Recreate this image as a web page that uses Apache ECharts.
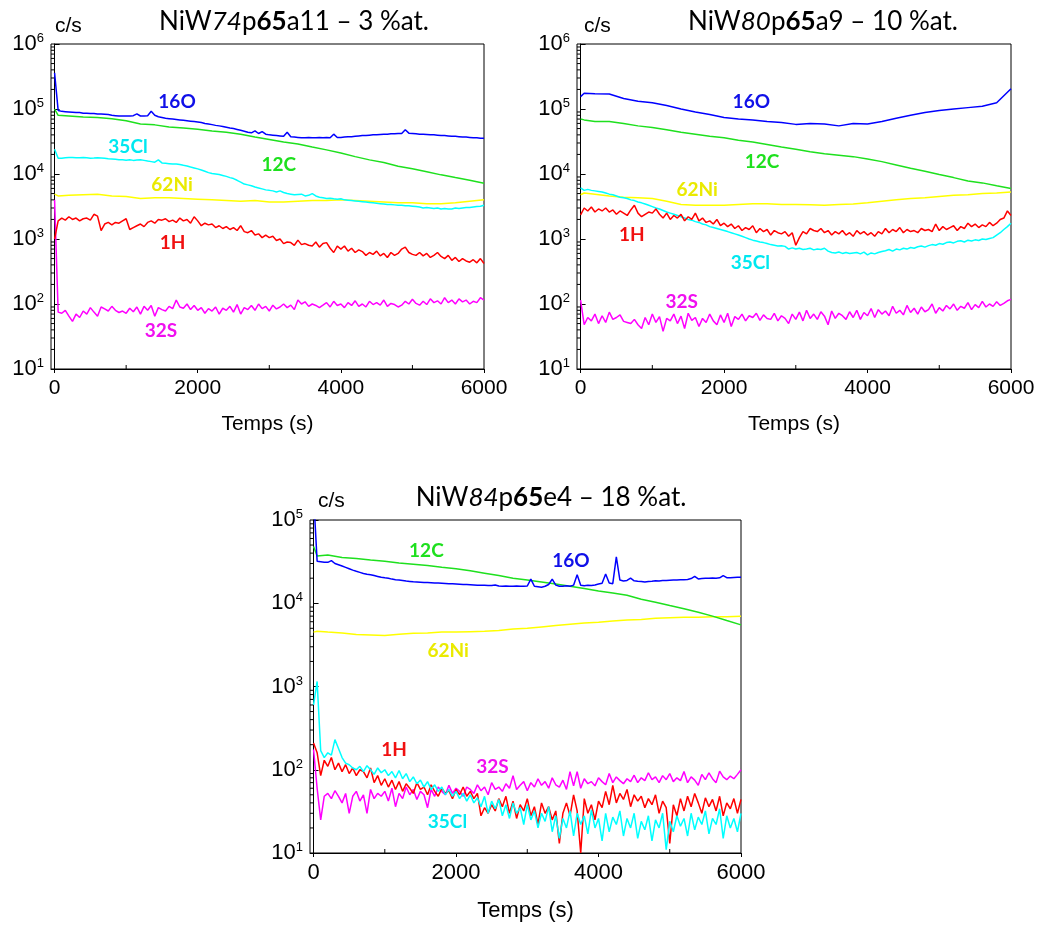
<!DOCTYPE html>
<html>
<head>
<meta charset="utf-8">
<script src="https://cdn.jsdelivr.net/npm/echarts@6/dist/echarts.min.js"></script>
<style>
html,body{margin:0;padding:0;background:#fff;}
#chart{width:1038px;height:926px;}
</style>
</head>
<body>
<div id="chart"></div>
<script>
// ---------- time grids (s) ----------
const tFine = [
0,50,100,150,200,250,300,350,400,450,
500,550,600,650,700,750,800,850,900,950,
1000,1050,1100,1150,1200,1250,1300,1350,1400,1450,
1500,1550,1600,1650,1700,1750,1800,1850,1900,1950,
2000,2050,2100,2150,2200,2250,2300,2350,2400,2450,
2500,2550,2600,2650,2700,2750,2800,2850,2900,2950,
3000,3050,3100,3150,3200,3250,3300,3350,3400,3450,
3500,3550,3600,3650,3700,3750,3800,3850,3900,3950,
4000,4050,4100,4150,4200,4250,4300,4350,4400,4450,
4500,4550,4600,4650,4700,4750,4800,4850,4900,4950,
5000,5050,5100,5150,5200,5250,5300,5350,5400,5450,
5500,5550,5600,5650,5700,5750,5800,5850,5900,5950,
6000];
const tCoarse = [0,50,200,400,600,800,1000,1200,1400,1600,1800,2000,2200,2400,2600,2800,3000,3200,3400,3600,3800,4000,4200,4400,4600,4800,5000,5200,5400,5600,5800,6000];

// ---------- tick labels ----------
const xTickValues = [0,2000,4000,6000];
const xMinorValues = [1000,3000,5000];
const xAxisName = 'Temps (s)';
const yUnit = 'c/s';

// ---------- Panel 1 : NiW74p65a11 – 3 %at. ----------
const p1_16O = [
360000,95000,92000,91000,90000,89000,88000,88000,86000,86000,
85000,85000,84000,84000,83000,82000,80000,79000,78000,78000,
78000,78000,79000,84000,78000,78000,79000,92000,80000,76000,
74000,72000,71000,70000,69000,68000,67000,66000,65000,64000,
63000,62000,60000,59000,57500,56000,55000,54000,52500,51000,
50000,48500,47000,45500,44000,43000,46000,42000,45000,41000,
40000,39500,39000,38500,38000,44000,37500,37000,36500,36000,
36000,36500,36000,36000,36500,36000,36500,36000,41000,36500,
36500,37000,37500,37500,38000,38500,39000,39000,39500,40000,
40000,40500,41000,41000,41500,41500,42000,42000,48000,42500,
42000,41500,41000,41000,40500,40000,40000,39500,39000,39000,
38500,38000,38000,37500,37000,37000,36500,36000,36000,35500,
35500];
const p1_1H = [
1000,1900,2100,1950,2200,2000,2100,1900,2050,2100,
1950,2400,2250,1350,1700,1800,1650,1800,1750,1900,
2050,1400,1500,1600,1700,1550,1800,1900,1750,2000,
1950,2050,1850,1950,1800,2100,1900,2000,1750,2200,
1900,1600,1750,1650,1700,1500,1600,1450,1550,1400,
1500,1350,1600,1300,1250,1350,1150,1200,1050,1150,
1050,1100,950,1000,850,900,880,800,960,820,
850,800,780,900,750,850,880,720,620,780,
700,780,650,720,620,680,640,560,620,580,
650,550,600,520,620,560,600,700,750,620,
580,560,620,550,600,520,560,620,540,500,
560,470,520,450,500,460,440,480,430,500,
420];
const p1_32S = [
4000,75,72,80,65,54,70,62,78,70,
88,75,65,90,84,78,92,80,74,78,
72,86,76,90,70,92,80,95,65,88,
82,78,92,85,115,90,86,100,82,95,
80,88,72,85,78,90,70,86,80,92,
75,98,70,88,82,95,80,100,85,92,
78,96,84,90,100,88,96,82,115,100,
108,92,100,95,88,96,105,90,110,95,
100,88,105,95,112,92,100,90,110,98,
105,96,115,92,102,98,90,96,110,100,
118,102,96,110,98,120,105,112,100,125,
105,115,100,120,108,115,100,110,105,125,
115];
const p1_35Cl = [
24000,17500,17500,17800,18000,18000,17800,17800,18000,17800,
17500,17600,17800,17700,17500,17200,17000,16800,16500,16500,
16300,16500,16200,16400,16500,16200,15800,15500,15200,16500,
14800,14600,14400,14200,14300,14000,13600,13300,12800,12400,
12000,11500,11000,10500,10200,10000,9800,9500,9200,8800,
8500,8000,7500,7000,6800,6600,6300,6100,5900,5700,
5600,5500,5300,5500,5200,5000,4900,4800,4850,4900,
4600,4700,5000,4600,4400,4300,4200,4250,4150,4100,
4150,4000,3950,3900,3850,3800,3750,3700,3650,3600,
3550,3500,3450,3400,3400,3350,3300,3300,3250,3250,
3200,3150,3100,3000,3050,3000,2950,3000,2900,2950,
2900,2900,3000,2950,3000,3050,3050,3100,3150,3200,
3300];
const p1_12C = [100000,80000,78000,75000,74000,71000,66000,59000,57000,53000,51000,49000,46000,44000,41000,37000,34000,31000,29000,26000,23500,21000,18500,16500,15000,13200,12000,10800,9700,8800,8000,7200];
const p1_62Ni = [4900,4600,4700,4800,4900,4600,4500,4200,4300,4300,4200,4100,4000,3900,3800,3900,3700,3700,3800,3900,3900,4000,3900,3800,3700,3600,3600,3500,3500,3600,3800,4000];

// ---------- Panel 2 : NiW80p65a9 – 10 %at. ----------
const p2_16O = [155000,175000,172000,170000,145000,132000,125000,113000,100000,90000,82000,74000,70000,68000,64000,62000,58000,60000,59000,55000,60000,59000,64000,72000,80000,88000,95000,100000,105000,110000,125000,205000];
const p2_12C = [70000,68000,64000,64000,60000,55000,52000,48000,44000,41000,38000,36000,33000,31000,28500,26000,24000,22000,20500,19500,18500,17000,15500,13800,12300,11000,9800,8800,7800,7300,6600,6000];
const p2_62Ni = [4800,5100,4900,4600,4400,4300,4200,3800,3400,3300,3300,3300,3400,3500,3500,3400,3400,3350,3300,3400,3450,3600,3800,4000,4200,4300,4500,4700,4800,5000,5100,5300];
const p2_35Cl = [
6100,5600,5800,5600,5500,5400,5300,5100,4900,4800,
4600,4400,4300,4200,4000,3900,3700,3600,3450,3300,
3150,3000,2900,2750,2600,2500,2400,2300,2200,2100,
2000,1950,1850,1800,1700,1650,1550,1500,1450,1400,
1350,1300,1250,1200,1150,1100,1050,1000,960,930,
900,880,850,820,800,780,790,770,700,730,
700,720,690,700,720,680,700,690,720,650,
620,610,630,600,620,600,610,620,590,630,
570,610,590,620,640,660,690,650,700,680,
720,700,740,720,760,780,750,790,820,800,
850,830,880,900,870,920,940,900,960,930,
970,950,1000,980,1020,1050,1150,1250,1400,1550,
1750];
const p2_1H = [
2350,3000,2700,3100,2600,2900,2700,3000,2600,2800,
2400,2700,2500,2300,2800,3300,2500,2200,2400,2600,
2500,2900,2400,2100,2500,2000,2300,2100,2400,1900,
2200,2000,2500,1900,2100,1800,1900,1700,2000,1600,
1750,1550,1700,1450,1600,1350,1500,1400,1600,1250,
1450,1300,1400,1150,1350,1250,1200,1300,1100,1250,
800,1050,1300,1200,1450,1350,1300,1450,1250,1350,
1150,1300,1200,1350,1150,1250,1100,1350,1200,1300,
1150,1250,1100,1300,1200,1450,1250,1400,1300,1500,
1250,1400,1300,1350,1250,1450,1350,1400,1300,1700,
1350,1550,1400,1500,1600,1350,1550,1450,1750,1550,
1700,1500,1650,1550,1800,1600,1750,2000,2100,2700,
2300];
const p2_32S = [
115,48,62,55,70,50,66,52,75,58,
62,68,54,52,50,58,48,42,62,48,
70,52,64,38,60,55,70,50,65,42,
72,56,62,45,60,52,70,55,48,68,
52,72,45,64,58,70,55,66,62,72,
56,68,60,58,72,55,66,60,50,70,
58,75,55,80,60,70,58,76,65,48,
78,60,72,66,58,76,62,80,58,74,
66,85,62,82,70,78,66,92,72,80,
68,95,74,86,70,90,76,82,100,72,
88,78,95,84,100,80,92,86,105,82,
98,88,110,90,100,92,108,95,102,112,
118];

// ---------- Panel 3 : NiW84p65e4 – 18 %at. ----------
const p3_16O = [
200000,32000,31500,31000,31000,32500,30000,29000,28000,27000,
26000,25000,24200,23500,22800,22300,22000,21500,21000,20500,
20200,20000,19500,19200,19000,18800,18500,18300,18100,18000,
17900,17800,17700,17600,17500,17500,17400,17300,17200,17100,
17000,16900,16800,16800,16700,16600,16500,16500,16400,16300,
16300,16600,16100,16000,16100,16000,16000,16100,16000,16000,
16100,19500,16000,15800,15600,16000,16800,19500,16500,16000,
16000,16200,16000,16500,22000,16500,16200,16400,16300,16600,
17000,17400,22500,17500,17200,36000,19000,18500,18800,20000,
18600,18400,18300,18000,18300,18400,18600,18500,18700,18800,
18900,19000,19000,19100,19200,19300,19800,21000,19600,19800,
19900,20000,20100,20000,20200,21500,20300,20200,20400,20500,
20500];
const p3_12C = [48000,37000,38000,35500,34500,33000,32000,30500,29500,28500,27000,26000,24500,23000,21500,20000,19000,18000,17000,16000,15000,14000,13300,12500,11200,10300,9400,8600,7800,7000,6200,5500];
const p3_62Ni = [4500,4600,4500,4400,4200,4150,4100,4250,4350,4400,4500,4500,4550,4600,4700,4900,5000,5200,5400,5600,5800,5900,6100,6300,6400,6600,6700,6800,6800,6900,6900,7000];
const p3_35Cl = [
600,1150,170,140,160,150,230,180,140,120,
115,105,100,110,95,112,100,88,105,92,
100,85,95,80,98,78,90,72,82,68,
75,62,72,58,66,55,62,50,58,48,
55,45,52,42,50,40,46,36,48,30,
42,34,44,28,38,26,40,30,35,22,
38,25,32,20,30,24,36,18,28,15,
26,20,32,16,30,22,28,17,33,20,
26,14,30,18,27,22,32,16,26,20,
30,15,24,19,28,14,25,20,30,11,
24,18,28,21,26,16,30,19,27,22,
32,17,26,22,34,15,28,20,26,18,
30];
const p3_1H = [
210,160,85,130,110,140,100,120,95,115,
90,105,85,100,95,80,105,70,85,65,
78,62,75,58,72,55,68,60,52,70,
58,62,50,66,55,48,60,52,56,45,
58,50,62,48,55,45,52,28,35,30,
38,32,45,36,48,30,42,26,38,32,
45,28,36,22,40,30,36,25,32,13,
30,40,28,50,32,10,45,30,38,25,
42,35,55,38,65,40,52,44,58,36,
50,42,48,35,45,38,50,30,42,35,
13,38,28,45,32,48,36,52,40,30,
46,36,44,32,48,28,40,34,45,30,
44];
const p3_32S = [
175,60,25,48,52,45,56,48,40,52,
30,48,55,42,50,30,58,45,52,48,
55,42,60,36,52,45,62,50,58,44,
55,50,35,58,48,62,55,50,65,52,
60,55,48,62,58,52,66,56,62,50,
70,58,62,55,68,60,85,58,65,72,
56,70,62,78,65,72,60,80,66,62,
75,58,95,64,95,60,78,68,72,64,
80,72,66,90,70,82,74,68,78,72,
86,70,80,74,92,76,82,70,85,76,
90,72,80,74,95,70,82,75,65,88,
76,92,78,70,96,82,76,84,78,88,
100];

// ---------- series labels: [time, counts] where the name sits ----------
const p1LabelAt = {'16O':[1711,128800],'35Cl':[1026,26300],'12C':[3133,13800],'62Ni':[1641,6760],'1H':[1650,871],'32S':[1487,38.9]};
const p2LabelAt = {'16O':[2380,128800],'12C':[2529,15100],'62Ni':[1626,5620],'1H':[713,1150],'35Cl':[2366,427],'32S':[1411,107]};
const p3LabelAt = {'12C':[1584,42700],'16O':[3614,32400],'62Ni':[1889,2690],'1H':[1130,174],'32S':[2512,107],'35Cl':[1880,23.4]};

// ---------- styling ----------
const COLORS = {'16O':'#0000ff','12C':'#1ee01e','35Cl':'#00ffff','62Ni':'#ffff00','1H':'#ff0000','32S':'#ff00ff'};
const LABEL_COLORS = {'16O':'#1010e8','12C':'#1ee01e','35Cl':'#00e8f0','62Ni':'#eaea00','1H':'#f01010','32S':'#f010f0'};
const X_MIN = -50, X_MAX = 6000;
const TICK_FONT = 'Liberation Sans';
const TITLE_FONT = 'Lato';

const panels = [
  {grid:{left:51,top:44,width:433,height:325}, yMax:1e6, nameGap:45, fs:21,
   title:['NiW','74','p','65','a11 – 3 %at.'], titleX:289, titleY:4, unitX:50, unitY:11,
   labels:p1LabelAt,
   series:[['62Ni',tCoarse,p1_62Ni],['12C',tCoarse,p1_12C],['16O',tFine,p1_16O],['35Cl',tFine,p1_35Cl],['32S',tFine,p1_32S],['1H',tFine,p1_1H]]},
  {grid:{left:577,top:44,width:434,height:325}, yMax:1e6, nameGap:45, fs:21,
   title:['NiW','80','p','65','a9 – 10 %at.'], titleX:818, titleY:4, unitX:579, unitY:11,
   labels:p2LabelAt,
   series:[['62Ni',tCoarse,p2_62Ni],['12C',tCoarse,p2_12C],['16O',tCoarse,p2_16O],['32S',tFine,p2_32S],['35Cl',tFine,p2_35Cl],['1H',tFine,p2_1H]]},
  {grid:{left:310,top:520,width:431,height:333}, yMax:1e5, nameGap:47, fs:22,
   title:['NiW','84','p','65','e4 – 18 %at.'], titleX:546, titleY:480, unitX:313, unitY:486,
   labels:p3LabelAt,
   series:[['62Ni',tCoarse,p3_62Ni],['12C',tCoarse,p3_12C],['16O',tFine,p3_16O],['32S',tFine,p3_32S],['1H',tFine,p3_1H],['35Cl',tFine,p3_35Cl]]}
];

function zip(t, v){ return t.map((x,i)=>[x, v[i]]); }

// minor log ticks (2..9 per decade) and minor x ticks, drawn through the axes
function tickData(yMax){
  const out = [];
  for (let d = 10; d < yMax; d *= 10){
    for (let k = 2; k <= 9; k++) out.push([X_MIN, k*d, 0]);
  }
  xMinorValues.forEach(v => out.push([v, 10, 1]));
  return out;
}

const grid = [], xAxis = [], yAxis = [], series = [], title = [];
panels.forEach((p, i) => {
  grid.push(Object.assign({show:true, borderColor:'#000', borderWidth:1, backgroundColor:'transparent'}, p.grid));
  xAxis.push({
    gridIndex:i, type:'value', min:X_MIN, max:X_MAX,
    name:xAxisName, nameLocation:'middle', nameGap:p.nameGap,
    nameTextStyle:{fontFamily:TICK_FONT, fontSize:p.fs, color:'#000'},
    axisLine:{show:true, onZero:false, lineStyle:{color:'#000', width:1}},
    axisTick:{show:true, inside:false, length:4, customValues:xTickValues, lineStyle:{color:'#000'}},
    axisLabel:{show:true, margin:9, customValues:xTickValues, formatter:v => String(v),
               fontFamily:TICK_FONT, fontSize:p.fs, color:'#000'},
    splitLine:{show:false}
  });
  yAxis.push({
    gridIndex:i, type:'log', logBase:10, min:10, max:p.yMax,
    axisLine:{show:true, lineStyle:{color:'#000', width:1}},
    axisTick:{show:true, inside:true, length:5, lineStyle:{color:'#000'}},
    axisLabel:{show:true, margin:7,
      formatter: v => '{b|10}{s|' + Math.round(Math.log10(v)) + '}',
      rich:{
        b:{fontFamily:TICK_FONT, fontSize:22, color:'#000', lineHeight:24},
        s:{fontFamily:TICK_FONT, fontSize:13, color:'#000', verticalAlign:'top', lineHeight:18}
      }},
    splitLine:{show:false}
  });
  title.push({
    text:'{n|' + p.title[0] + '}{i|' + p.title[1] + '}{n|' + p.title[2] + '}{b|' + p.title[3] + '}{n|' + p.title[4] + '}',
    left:p.titleX, top:p.titleY, textAlign:'center',
    textStyle:{fontWeight:'normal', rich:{
      n:{fontFamily:TITLE_FONT, fontSize:26, fontWeight:'normal', color:'#000'},
      i:{fontFamily:TITLE_FONT, fontSize:26, fontWeight:'normal', fontStyle:'italic', color:'#000'},
      b:{fontFamily:TITLE_FONT, fontSize:26, fontWeight:'bold', color:'#000'}
    }}
  });
  title.push({text:yUnit, left:p.unitX, top:p.unitY, textStyle:{fontFamily:TICK_FONT, fontSize:21, fontWeight:'normal', color:'#000'}});

  p.series.forEach(([name, t, v]) => {
    const at = p.labels[name];
    series.push({
      type:'line', name:name, xAxisIndex:i, yAxisIndex:i,
      data:zip(t, v), showSymbol:false, symbol:'none', clip:true,
      lineStyle:{color:COLORS[name], width:1.5}, itemStyle:{color:COLORS[name]},
      animation:false, silent:true,
      markPoint:{
        symbol:'circle', symbolSize:0, silent:true, animation:false,
        label:{show:true, position:'inside', formatter:name, color:LABEL_COLORS[name],
               fontFamily:TITLE_FONT, fontWeight:'bold', fontSize:19},
        data:[{coord:at}]
      }
    });
  });

  series.push({
    type:'custom', xAxisIndex:i, yAxisIndex:i, silent:true, animation:false, clip:false, z:10,
    data:tickData(p.yMax),
    renderItem:(params, api) => {
      const pt = api.coord([api.value(0), api.value(1)]);
      const kind = api.value(2);
      if (kind === 0) {
        return {type:'line', shape:{x1:pt[0], y1:pt[1], x2:pt[0]+3, y2:pt[1]}, style:{stroke:'#000', lineWidth:1}};
      }
      return {type:'line', shape:{x1:pt[0], y1:pt[1], x2:pt[0], y2:pt[1]-4}, style:{stroke:'#000', lineWidth:1}};
    }
  });
});

const chart = echarts.init(document.getElementById('chart'), null, {renderer:'canvas'});
chart.setOption({animation:false, backgroundColor:'#fff', title, grid, xAxis, yAxis, series});
</script>
</body>
</html>
